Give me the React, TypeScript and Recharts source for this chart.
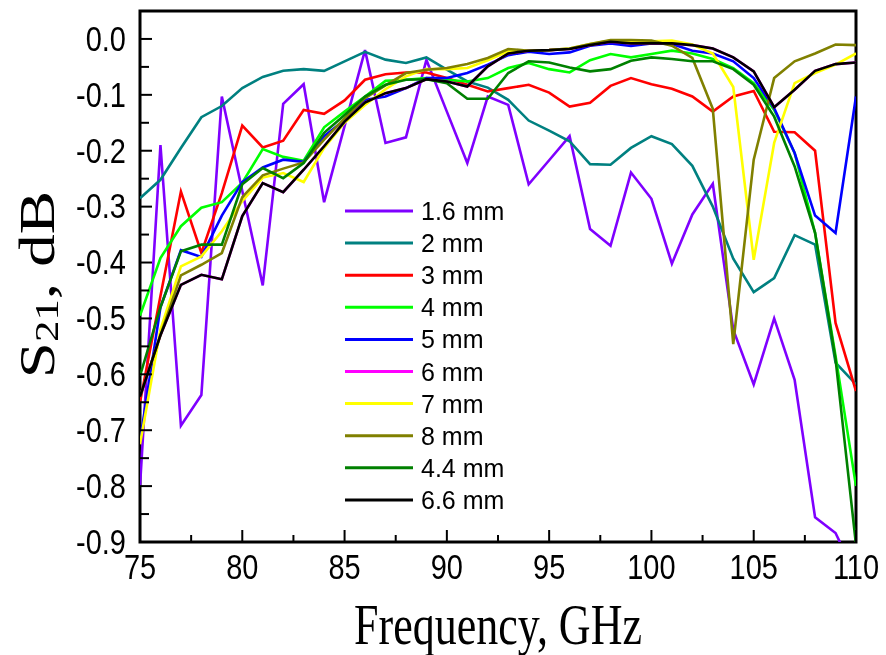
import React from 'react';
import { LineChart, Line, XAxis, YAxis, ReferenceArea, Legend } from 'recharts';

const freq = [75, 76, 77, 78, 79, 80, 81, 82, 83, 84, 85, 86, 87, 88, 89, 90, 91, 92, 93, 94, 95, 96, 97, 98, 99, 100, 101, 102, 103, 104, 105, 106, 107, 108, 109, 110];

const s1_6mm = [-0.80, -0.19, -0.692, -0.637, -0.103, -0.272, -0.441, -0.116, -0.081, -0.292, -0.156, -0.02, -0.186, -0.176, -0.0375, -0.13, -0.222, -0.103, -0.118, -0.26, -0.217, -0.174, -0.34, -0.37, -0.239, -0.286, -0.402, -0.314, -0.259, -0.52, -0.618, -0.50, -0.61, -0.856, -0.884, -0.96];
const s2mm = [-0.285, -0.252, -0.195, -0.14, -0.12, -0.088, -0.068, -0.057, -0.054, -0.057, -0.040, -0.023, -0.037, -0.043, -0.033, -0.055, -0.076, -0.087, -0.109, -0.146, -0.164, -0.183, -0.224, -0.225, -0.195, -0.174, -0.188, -0.227, -0.30, -0.393, -0.453, -0.428, -0.351, -0.368, -0.579, -0.618];
const s3mm = [-0.65, -0.46, -0.273, -0.383, -0.276, -0.155, -0.194, -0.182, -0.127, -0.134, -0.110, -0.073, -0.063, -0.060, -0.060, -0.070, -0.082, -0.094, -0.088, -0.082, -0.096, -0.121, -0.114, -0.084, -0.070, -0.081, -0.089, -0.103, -0.13, -0.103, -0.093, -0.166, -0.167, -0.20, -0.508, -0.63];
const s4mm = [-0.495, -0.392, -0.335, -0.302, -0.292, -0.257, -0.197, -0.211, -0.218, -0.158, -0.130, -0.103, -0.075, -0.073, -0.070, -0.073, -0.076, -0.070, -0.052, -0.043, -0.054, -0.060, -0.038, -0.027, -0.033, -0.027, -0.021, -0.026, -0.036, -0.052, -0.079, -0.127, -0.204, -0.347, -0.567, -0.80];
const s5mm = [-0.72, -0.48, -0.378, -0.39, -0.316, -0.256, -0.23, -0.216, -0.22, -0.174, -0.145, -0.109, -0.103, -0.088, -0.070, -0.070, -0.061, -0.046, -0.029, -0.023, -0.027, -0.024, -0.012, -0.008, -0.0125, -0.008, -0.009, -0.021, -0.026, -0.040, -0.070, -0.124, -0.204, -0.316, -0.347, -0.103];
const s6mm = [-0.64, -0.53, -0.44, -0.422, -0.43, -0.317, -0.258, -0.274, -0.234, -0.192, -0.148, -0.114, -0.097, -0.088, -0.072, -0.076, -0.085, -0.049, -0.026, -0.021, -0.020, -0.018, -0.011, -0.005, -0.008, -0.008, -0.008, -0.011, -0.017, -0.033, -0.058, -0.122, -0.091, -0.057, -0.045, -0.042];
const s7mm = [-0.725, -0.52, -0.407, -0.389, -0.344, -0.29, -0.248, -0.24, -0.256, -0.195, -0.15, -0.118, -0.09, -0.067, -0.054, -0.054, -0.052, -0.038, -0.022, -0.021, -0.02, -0.017, -0.009, -0.003, -0.004, -0.004, -0.003, -0.01, -0.026, -0.086, -0.395, -0.186, -0.079, -0.061, -0.046, -0.026];
const s8mm = [-0.64, -0.53, -0.423, -0.404, -0.383, -0.283, -0.244, -0.232, -0.221, -0.18, -0.142, -0.106, -0.083, -0.061, -0.055, -0.052, -0.045, -0.034, -0.018, -0.021, -0.02, -0.017, -0.009, -0.002, -0.002, -0.003, -0.012, -0.034, -0.125, -0.546, -0.216, -0.070, -0.040, -0.026, -0.010, -0.011];
const s4_4mm = [-0.603, -0.48, -0.38, -0.368, -0.368, -0.26, -0.231, -0.249, -0.222, -0.168, -0.136, -0.103, -0.082, -0.073, -0.072, -0.079, -0.107, -0.107, -0.061, -0.040, -0.042, -0.051, -0.058, -0.054, -0.039, -0.033, -0.036, -0.040, -0.040, -0.054, -0.082, -0.139, -0.228, -0.347, -0.573, -0.905];
const s6_6mm = [-0.64, -0.53, -0.44, -0.422, -0.43, -0.317, -0.258, -0.274, -0.234, -0.192, -0.148, -0.114, -0.097, -0.088, -0.072, -0.076, -0.085, -0.049, -0.026, -0.021, -0.020, -0.018, -0.011, -0.005, -0.008, -0.008, -0.008, -0.011, -0.017, -0.033, -0.058, -0.122, -0.091, -0.057, -0.045, -0.042];

const seriesNames = ['1.6 mm', '2 mm', '3 mm', '4 mm', '5 mm', '6 mm', '7 mm', '8 mm', '4.4 mm', '6.6 mm'];
const seriesColors = ['#7F00FF', '#008080', '#FF0000', '#00FF00', '#0000FF', '#FF00FF', '#FFFF00', '#808000', '#008000', '#000000'];
const seriesValues = [s1_6mm, s2mm, s3mm, s4mm, s5mm, s6mm, s7mm, s8mm, s4_4mm, s6_6mm];

const xTicks = [75, 77.5, 80, 82.5, 85, 87.5, 90, 92.5, 95, 97.5, 100, 102.5, 105, 107.5, 110];
const yTicks = [-0.9, -0.85, -0.8, -0.75, -0.7, -0.65, -0.6, -0.55, -0.5, -0.45, -0.4, -0.35, -0.3, -0.25, -0.2, -0.15, -0.1, -0.05, 0.0];

const xTitle = 'Frequency, GHz';

const data = freq.map((f, i) => {
  const row: Record<string, number> = { f };
  seriesValues.forEach((vals, k) => {
    row['s' + k] = vals[i];
  });
  return row;
});

const SANS = 'Arial, "Liberation Sans", sans-serif';
const SERIF = '"Times New Roman", "Liberation Serif", serif';

const XTick = (props: any) => {
  const { x, y, payload } = props;
  const v = payload.value as number;
  const major = Math.abs(v - Math.round(v / 5) * 5) < 1e-6;
  return (
    <g>
      <line x1={x} x2={x} y1={y} y2={y - (major ? 12 : 7)} stroke="#000" strokeWidth={2} />
      {major && (
        <text
          transform={`translate(${x},${y + 25}) scale(1,1.18)`}
          x={0}
          y={0}
          textAnchor="middle"
          dominantBaseline="central"
          fontFamily={SANS}
          fontSize={29}
          fill="#000"
        >
          {String(v)}
        </text>
      )}
    </g>
  );
};

const YTick = (props: any) => {
  const { x, y, payload } = props;
  const v = payload.value as number;
  const major = Math.abs(Math.round(v * 100) % 10) === 0;
  return (
    <g>
      <line x1={x} x2={x + (major ? 12 : 9)} y1={y} y2={y} stroke="#000" strokeWidth={2} />
      {major && (
        <text
          transform={`translate(${x - 14},${y}) scale(1,1.18)`}
          x={0}
          y={0}
          textAnchor="end"
          dominantBaseline="central"
          fontFamily={SANS}
          fontSize={29}
          fill="#000"
        >
          {v.toFixed(1)}
        </text>
      )}
    </g>
  );
};

const YTitle = (props: any) => {
  const vb = props.viewBox || { x: 0, y: 3, width: 132, height: 531 };
  const cx = 29;
  const cy = vb.y + vb.height / 2 + 8;
  return (
    <text
      transform={`translate(${cx},${cy}) scale(1,1.3) rotate(-90)`}
      textAnchor="middle"
      dominantBaseline="central"
      fontFamily={SERIF}
      fontSize={50}
      fill="#000"
    >
      S<tspan dy={10} fontSize={33}>21</tspan><tspan dy={-10}>, dB</tspan>
    </text>
  );
};

const XTitle = (props: any) => {
  const vb = props.viewBox || { x: 132, y: 534, width: 716, height: 113 };
  const cx = vb.x + vb.width / 2;
  const cy = vb.y + 83;
  return (
    <text
      transform={`translate(${cx},${cy}) scale(1,1.3)`}
      x={0}
      y={0}
      textAnchor="middle"
      dominantBaseline="central"
      fontFamily={SERIF}
      fontSize={44}
      fill="#000"
    >
      {xTitle}
    </text>
  );
};

const renderLegend = () => (
  <svg width={200} height={330} style={{ display: 'block', overflow: 'visible' }}>
    {seriesNames.map((n, i) => {
      const cy = 16 + i * 32.1;
      return (
        <g key={n}>
          <line x1={0} x2={68} y1={cy} y2={cy} stroke={seriesColors[i]} strokeWidth={3} />
          <text x={76} y={cy} dominantBaseline="central" fontFamily={SANS} fontSize={25} fill="#000">
            {n}
          </text>
        </g>
      );
    })}
  </svg>
);

export default function App() {
  return (
    <div style={{ position: 'fixed', left: 8, top: 8, width: 878, height: 647 }}>
      <LineChart width={878} height={647} data={data} margin={{ top: 3, right: 30, bottom: 0, left: 0 }}>
        <XAxis
          dataKey="f"
          type="number"
          domain={[75, 110]}
          ticks={xTicks}
          interval={0}
          tickSize={0}
          tickMargin={0}
          tick={<XTick />}
          tickLine={false}
          axisLine={false}
          height={113}
          label={{ content: <XTitle /> }}
          allowDataOverflow
        />
        <YAxis
          type="number"
          domain={[-0.9, 0.05]}
          ticks={yTicks}
          interval={0}
          tickSize={0}
          tickMargin={0}
          tick={<YTick />}
          tickLine={false}
          axisLine={false}
          width={132}
          label={{ content: <YTitle /> }}
          allowDataOverflow
        />
        {seriesNames.map((n, k) => (
          <Line
            key={n}
            dataKey={'s' + k}
            name={n}
            stroke={seriesColors[k]}
            strokeWidth={2.6}
            dot={false}
            activeDot={false}
            isAnimationActive={false}
            type="linear"
          />
        ))}
        <ReferenceArea x1={75} x2={110} y1={-0.9} y2={0.05} fill="none" stroke="#000" strokeWidth={3} ifOverflow="visible" />
        <Legend
          layout="vertical"
          align="center"
          verticalAlign="middle"
          content={renderLegend}
          wrapperStyle={{ position: 'absolute', left: 337, top: 187, width: 200, height: 330 }}
        />
      </LineChart>
    </div>
  );
}
